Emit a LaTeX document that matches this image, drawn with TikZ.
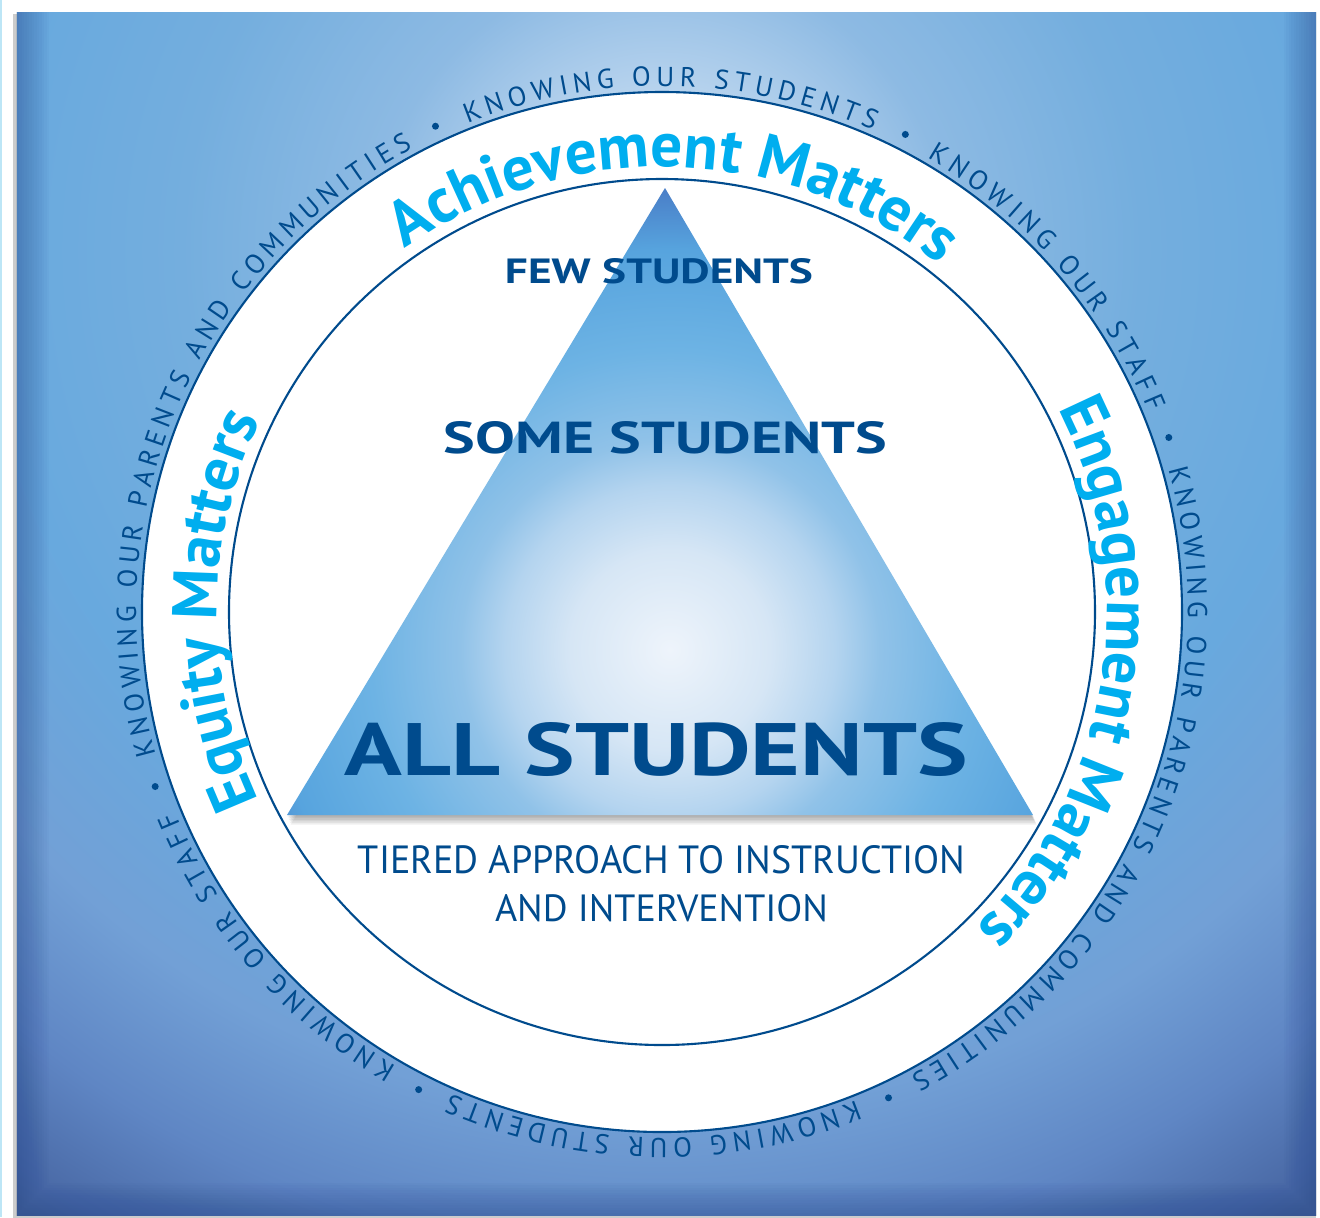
\documentclass[tikz,border=0pt]{standalone}
\usepackage{fontspec}
\setmainfont{PT Sans}
\usepackage{graphicx}
\usetikzlibrary{decorations.text}

\definecolor{navy}{HTML}{004B8D}
\definecolor{skyblue}{HTML}{00AEEF}
\definecolor{edgeblue}{HTML}{25468C}
\definecolor{paleline}{HTML}{BDE6F6}
% backdrop colours
\definecolor{bdA}{HTML}{D5E6F7}
\definecolor{bdB}{HTML}{BCD6EF}
\definecolor{bdC}{HTML}{8DBAE3}
\definecolor{bdD}{HTML}{74AEDE}
\definecolor{bdE}{HTML}{68A9DE}
\definecolor{bdF}{HTML}{72A0D6}
\definecolor{bdG}{HTML}{5F86C4}
\definecolor{bdH}{HTML}{45639F}
% pyramid colours
\definecolor{pyA}{HTML}{EEF4FB}
\definecolor{pyB}{HTML}{D6E6F5}
\definecolor{pyC}{HTML}{B4D4EF}
\definecolor{pyD}{HTML}{90C2E8}
\definecolor{pyE}{HTML}{6DB3E4}
\definecolor{pyF}{HTML}{57A4DE}
\definecolor{pyG}{HTML}{4A7FC8}
\definecolor{pyH}{HTML}{4577C4}

\pgfdeclareradialshading{backdrop}{\pgfpoint{0bp}{0bp}}{%
  color(0bp)=(bdA); color(3bp)=(bdB); color(6bp)=(bdC); color(10bp)=(bdD);
  color(14bp)=(bdE); color(18bp)=(bdF); color(21bp)=(bdG); color(24bp)=(bdH); color(25bp)=(bdH)}
\pgfdeclareradialshading{pyramid}{\pgfpoint{0bp}{0bp}}{%
  color(0bp)=(pyA); color(5bp)=(pyB); color(8.25bp)=(pyC); color(10.5bp)=(pyD);
  color(15bp)=(pyE); color(20bp)=(pyF); color(23bp)=(pyG); color(25bp)=(pyH)}

\newcommand{\ringfont}{\fontsize{7.8}{8}\selectfont\color{navy}}
\newcommand{\mattersfont}{\fontsize{18}{20}\selectfont\bfseries\color{skyblue}}
\newcommand{\capsbox}[3]{\resizebox{#1}{#2}{#3}}

\tikzset{
  ring text/.style={decorate, decoration={text along path,
      text align=fit to path, text={|\ringfont|#1}}},
  matters text/.style={decorate, decoration={text along path,
      text align=center, text={|\mattersfont|#1}}}
}
\tikzstyle{tier label}=[inner sep=0pt, anchor=base, text=navy, font=\bfseries]
\tikzstyle{approach label}=[inner sep=0pt, anchor=base, text=navy]

\begin{document}
\begin{tikzpicture}
  \useasboundingbox (-6.62,-6.05) rectangle (6.58,6.12);
  \fill[white] (-6.62,-6.05) rectangle (6.58,6.12);
  \fill[paleline] (-6.62,-6.05) rectangle (-6.595,6.12);

  % backdrop square
  \coordinate (sq-sw) at (-6.45,-6.03);
  \coordinate (sq-ne) at (6.54,6.00);
  \fill[black, opacity=0.2] ([xshift=-0.04cm,yshift=-0.025cm]sq-sw) rectangle ([yshift=-0.02cm]sq-ne);
  \begin{scope}
    \clip (sq-sw) rectangle (sq-ne);
    \shade[shading=backdrop] (-12,-8.38) rectangle (12,15.62);
    \foreach \w in {0.05,0.1,...,0.7}
      \draw[edgeblue, opacity=0.035, line width=\w cm]
        (-6.45,6.3) -- (-6.45,-6.03) -- (6.54,-6.03) -- (6.54,6.3);
  \end{scope}

  % white ring
  \coordinate (hub) at (0,0);
  \filldraw[fill=white, draw=navy, line width=0.6pt] (hub) circle (5.2);
  \draw[navy, line width=0.6pt] (hub) circle (4.33);

  % outer ring words
  \path[ring text={KNOWING OUR STUDENTS}] (111.7:5.26) arc[start angle=111.7, end angle=66.3, radius=5.26];
  \path[ring text={KNOWING OUR STAFF}] (59.7:5.26) arc[start angle=59.7, end angle=22.3, radius=5.26];
  \path[ring text={KNOWING OUR PARENTS AND COMMUNITIES}] (15.7:5.26) arc[start angle=15.7, end angle=-61.7, radius=5.26];
  \path[ring text={KNOWING OUR STUDENTS}] (-68.3:5.26) arc[start angle=-68.3, end angle=-113.7, radius=5.26];
  \path[ring text={KNOWING OUR STAFF}] (-120.3:5.26) arc[start angle=-120.3, end angle=-157.7, radius=5.26];
  \path[ring text={KNOWING OUR PARENTS AND COMMUNITIES}] (195.7:5.26) arc[start angle=195.7, end angle=118.3, radius=5.26];
  \foreach \a in {115,63,19,-65,-117,-161}
    \fill[navy] (\a:5.36) circle (0.035);

  % matters
  \path[matters text={Achievement Matters}] (148.3:4.45) arc[start angle=148.3, end angle=28.3, radius=4.45];
  \path[matters text={Engagement Matters}] (51:4.45) arc[start angle=51, end angle=-69, radius=4.45];
  \path[matters text={Equity Matters}] (-120.25:4.45) arc[start angle=-120.25, end angle=-240.25, radius=4.45];

  % pyramid
  \coordinate (apex) at (0.03,4.24);
  \coordinate (left) at (-3.75,-2.03);
  \coordinate (right) at (3.71,-2.03);
  \foreach \k in {1,...,6}
    \fill[black, opacity=0.06] ([shift={(0.006*\k,-0.016*\k)}]apex)
      -- ([shift={(0.006*\k,-0.016*\k)}]left) -- ([shift={(0.006*\k,-0.016*\k)}]right) -- cycle;
  \begin{scope}
    \clip (apex) -- (left) -- (right) -- cycle;
    \shade[shading=pyramid] (-4.92,-5.38) rectangle (5.08,4.62);
  \end{scope}

  \node[tier label] (few) at (-0.03,3.287) {\capsbox{3.08cm}{0.25cm}{FEW STUDENTS}};
  \node[tier label] (some) at (0.035,1.59) {\capsbox{4.43cm}{0.32cm}{SOME STUDENTS}};
  \node[tier label] (all) at (-0.055,-1.63) {\capsbox{6.23cm}{0.53cm}{ALL STUDENTS}};
  \node[approach label] (tiered) at (-0.005,-2.613) {\capsbox{6.07cm}{0.28cm}{TIERED APPROACH TO INSTRUCTION}};
  \node[approach label] (interv) at (-0.005,-3.097) {\capsbox{3.33cm}{0.27cm}{AND INTERVENTION}};
\end{tikzpicture}
\end{document}
